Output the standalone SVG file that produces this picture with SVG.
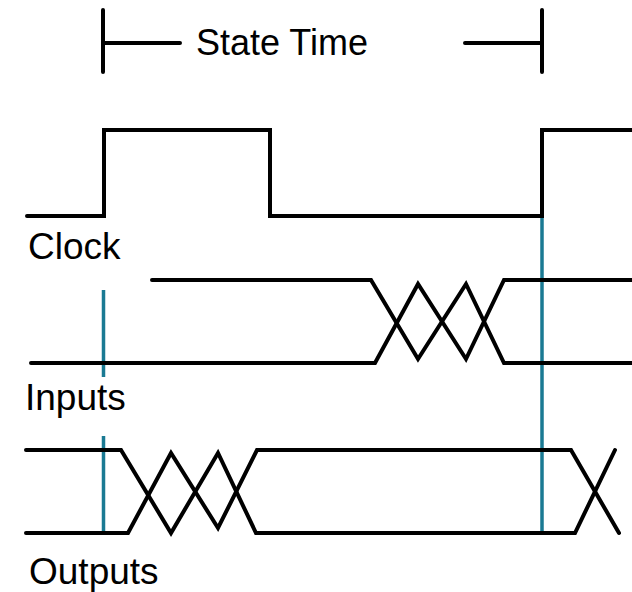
<svg xmlns="http://www.w3.org/2000/svg" width="632" height="592" viewBox="0 0 632 592">
<style>
.w{fill:none;stroke:#000;stroke-width:4;stroke-linecap:round;stroke-linejoin:miter}
.m{fill:none;stroke:#1a7a93;stroke-width:3.5}
text{font-family:"Liberation Sans",Arial,sans-serif;fill:#000}
</style>
<rect width="632" height="592" fill="#fff"/>
<g id="state-time">
<path class="w" d="M103 10V72M103 43H180M465 43H542M542 10V72"/>
<text x="282" y="55" font-size="36" text-anchor="middle">State Time</text>
</g>
<g id="markers">
<path class="m" d="M103.5 290V377M103.5 436V533M542 216V535"/>
</g>
<g id="clock">
<path class="w" d="M27 216H104V130H270V216H542V130H634"/>
<text x="28" y="259" font-size="37">Clock</text>
</g>
<g id="inputs">
<path class="w" d="M152 280H371L418 359L466 284L504 363H634"/>
<path class="w" d="M31 363H375L418 284L466 359L504 280H634"/>
<text x="25" y="410" font-size="37">Inputs</text>
</g>
<g id="outputs">
<path class="w" d="M26 450H121L171 533L218 453L256 533H575L615 450"/>
<path class="w" d="M26 533H128L171 453L218 528L257 450H571L619 533"/>
<text x="29" y="584" font-size="37">Outputs</text>
</g>
</svg>
